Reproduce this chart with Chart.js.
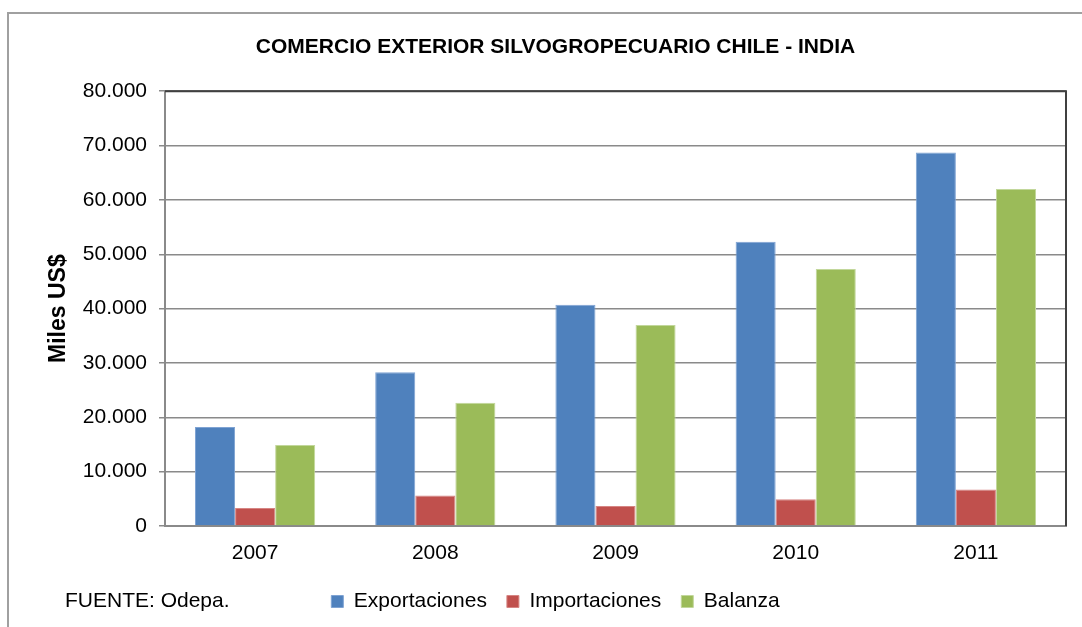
<!DOCTYPE html>
<html>
<head>
<meta charset="utf-8">
<script src="https://cdn.jsdelivr.net/npm/chart.js@4.4.0/dist/chart.umd.min.js"></script>
<style>
  html, body { margin: 0; padding: 0; background: #fff; }
  #wrap { width: 1082px; height: 627px; }
</style>
</head>
<body>
<div id="wrap"><canvas id="tradeChart" width="1082" height="627"></canvas></div>
<script>
// datos en miles de US$
const years = ['2007', '2008', '2009', '2010', '2011'];
const exportaciones = [18200, 28300, 40700, 52300, 68700];
const importaciones = [3300, 5600, 3700, 4900, 6700];
const balanza = [14900, 22700, 37000, 47300, 62000];

const FONT = "'Liberation Sans', Arial, sans-serif";

function formatMiles(v) {
    return v === 0 ? '0' : v.toLocaleString('de-DE', { minimumFractionDigits: 0 });
}

// marco exterior, borde derecho del area de trazado y nota de fuente
const extras = {
    id: 'extras',
    beforeDraw(chart) {
        const ctx = chart.ctx;
        ctx.save();
        ctx.strokeStyle = '#a0a0a0';
        ctx.lineWidth = 2;
        ctx.beginPath();
        ctx.moveTo(8, 640);
        ctx.lineTo(8, 13);
        ctx.lineTo(1090, 13);
        ctx.stroke();
        ctx.restore();
    },
    afterDraw(chart) {
        const ctx = chart.ctx;
        const a = chart.chartArea;
        ctx.save();
        ctx.strokeStyle = '#404040';
        ctx.lineWidth = 2;
        ctx.beginPath();
        ctx.moveTo(a.left, a.top);
        ctx.lineTo(a.right, a.top);
        ctx.lineTo(a.right, a.bottom);
        ctx.stroke();
        ctx.fillStyle = '#000';
        ctx.font = '21px ' + FONT;
        ctx.textBaseline = 'middle';
        ctx.fillText('FUENTE: Odepa.', 65, 601);
        ctx.restore();
    }
};

const ctx = document.getElementById('tradeChart').getContext('2d');
new Chart(ctx, {
    type: 'bar',
    data: {
        labels: years,
        datasets: [{
            label: 'Exportaciones',
            data: exportaciones,
            backgroundColor: '#4F81BD',
            borderColor: '#7fa3d3',
            borderWidth: 1
        }, {
            label: 'Importaciones',
            data: importaciones,
            backgroundColor: '#C0504D',
            borderColor: '#d68583',
            borderWidth: 1
        }, {
            label: 'Balanza',
            data: balanza,
            backgroundColor: '#9BBB59',
            borderColor: '#c2d79b',
            borderWidth: 1
        }]
    },
    options: {
        responsive: false,
        animation: false,
        categoryPercentage: 0.667,
        barPercentage: 1.0,
        layout: { padding: { left: 45, right: 16, top: 0, bottom: 5 } },
        plugins: {
            title: {
                display: true,
                text: 'COMERCIO EXTERIOR SILVOGROPECUARIO CHILE - INDIA',
                color: '#000',
                font: { family: FONT, size: 21, weight: 'bold' },
                padding: { top: 35, bottom: 31 }
            },
            legend: {
                position: 'bottom',
                labels: {
                    color: '#000',
                    font: { family: FONT, size: 21 },
                    boxWidth: 12,
                    boxHeight: 12,
                    padding: 20
                }
            },
            tooltip: { enabled: false }
        },
        scales: {
            x: {
                grid: { display: false },
                border: { display: true, color: '#8a8a8a', width: 2 },
                ticks: { color: '#000', font: { family: FONT, size: 21 }, padding: 7 },
                afterFit(scale) { scale.height = 45; }
            },
            y: {
                min: 0,
                max: 80000,
                ticks: {
                    stepSize: 10000,
                    color: '#000',
                    font: { family: FONT, size: 21 },
                    padding: 12,
                    callback: v => formatMiles(v)
                },
                grid: {
                    color: '#8a8a8a',
                    lineWidth: 1.5,
                    tickLength: 6
                },
                border: { display: true, color: '#8a8a8a', width: 2 },
                title: {
                    display: true,
                    text: 'Miles US$',
                    color: '#000',
                    font: { family: FONT, size: 23, weight: 'bold' },
                    padding: 0
                },
                afterFit(scale) { scale.width = 120; }
            }
        }
    },
    plugins: [extras]
});
</script>
</body>
</html>
